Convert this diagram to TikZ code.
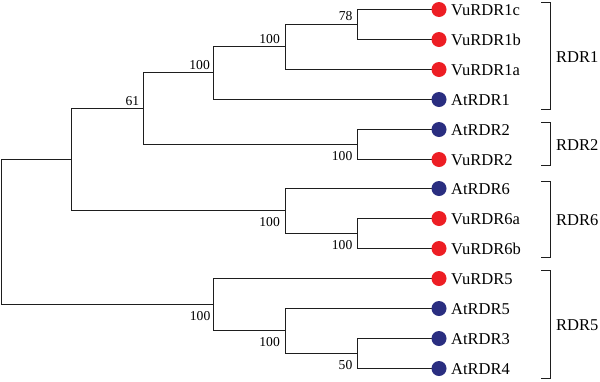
\documentclass[tikz,border=0pt]{standalone}
\usepackage{fontspec}
\setmainfont{Liberation Serif}
\definecolor{vured}{RGB}{237,30,36}
\definecolor{atblue}{RGB}{42,46,128}
\definecolor{branch}{RGB}{30,30,30}
\begin{document}
\begin{tikzpicture}[x=1pt,y=-1pt,
  br/.style={draw=branch,line width=1.2pt,line cap=rect},
  vudot/.style={circle,fill=vured,inner sep=0pt,minimum size=15pt},
  atdot/.style={circle,fill=atblue,inner sep=0pt,minimum size=15pt},
  leaflab/.style={anchor=base west,inner sep=0pt,font=\fontsize{16.5}{18}\selectfont},
  grplab/.style={anchor=base west,inner sep=0pt,font=\fontsize{16.5}{18}\selectfont},
  supup/.style={anchor=base east,inner sep=0pt,font=\fontsize{13.6}{15}\selectfont},
  supdn/.style={anchor=base east,inner sep=0pt,font=\fontsize{13.6}{15}\selectfont},
  brk/.style={draw=branch,line width=1.2pt,line cap=rect}]
\useasboundingbox (0,0) rectangle (600,381);
% internal nodes
\coordinate (n78) at (357.5,24.5);
\coordinate (n1abc) at (285.5,46.5);
\coordinate (nR1) at (213.5,72.5);
\coordinate (nR2) at (357.5,144.5);
\coordinate (n61) at (143.5,108.5);
\coordinate (nR6b) at (357.5,233.5);
\coordinate (nR6) at (285.5,210.5);
\coordinate (nUp) at (71.5,159.5);
\coordinate (n50) at (357.5,353.5);
\coordinate (nR5in) at (285.5,330.5);
\coordinate (nR5) at (213.5,304.5);
\coordinate (root) at (1.5,232);
% leaf end points
\coordinate (e0) at (431,9.5);
\coordinate (e1) at (431,39.5);
\coordinate (e2) at (431,69.5);
\coordinate (e3) at (431,99.5);
\coordinate (e4) at (431,129.5);
\coordinate (e5) at (431,159.5);
\coordinate (e6) at (431,188.5);
\coordinate (e7) at (431,218.5);
\coordinate (e8) at (431,248.5);
\coordinate (e9) at (431,278.5);
\coordinate (e10) at (431,308.5);
\coordinate (e11) at (431,338.5);
\coordinate (e12) at (431,368.5);
% branches
\draw[br] (n78) |- (e0); \draw[br] (n78) |- (e1);
\draw[br] (n1abc) |- (n78); \draw[br] (n1abc) |- (e2);
\draw[br] (nR1) |- (n1abc); \draw[br] (nR1) |- (e3);
\draw[br] (nR2) |- (e4); \draw[br] (nR2) |- (e5);
\draw[br] (n61) |- (nR1); \draw[br] (n61) |- (nR2);
\draw[br] (nR6b) |- (e7); \draw[br] (nR6b) |- (e8);
\draw[br] (nR6) |- (e6); \draw[br] (nR6) |- (nR6b);
\draw[br] (nUp) |- (n61); \draw[br] (nUp) |- (nR6);
\draw[br] (n50) |- (e11); \draw[br] (n50) |- (e12);
\draw[br] (nR5in) |- (e10); \draw[br] (nR5in) |- (n50);
\draw[br] (nR5) |- (e9); \draw[br] (nR5) |- (nR5in);
\draw[br] (root) |- (nUp); \draw[br] (root) |- (nR5);
% leaves (dots)
\node[vudot] (c0) at (439,9.5) {};
\node[vudot] (c1) at (439,39.5) {};
\node[vudot] (c2) at (439,69.5) {};
\node[atdot] (c3) at (439,99.5) {};
\node[atdot] (c4) at (439,129.5) {};
\node[vudot] (c5) at (439,159.5) {};
\node[atdot] (c6) at (439,188.5) {};
\node[vudot] (c7) at (439,218.5) {};
\node[vudot] (c8) at (439,248.5) {};
\node[vudot] (c9) at (439,278.5) {};
\node[atdot] (c10) at (439,308.5) {};
\node[atdot] (c11) at (439,338.5) {};
\node[atdot] (c12) at (439,368.5) {};
% leaf labels
\node[leaflab] (t0) at (451,15.5) {VuRDR1c};
\node[leaflab] (t1) at (451,45.5) {VuRDR1b};
\node[leaflab] (t2) at (451,75.5) {VuRDR1a};
\node[leaflab] (t3) at (451,105.5) {AtRDR1};
\node[leaflab] (t4) at (451,135.5) {AtRDR2};
\node[leaflab] (t5) at (451,165.5) {VuRDR2};
\node[leaflab] (t6) at (451,194.5) {AtRDR6};
\node[leaflab] (t7) at (451,224.5) {VuRDR6a};
\node[leaflab] (t8) at (451,254.5) {VuRDR6b};
\node[leaflab] (t9) at (451,284.5) {VuRDR5};
\node[leaflab] (t10) at (451,314.5) {AtRDR5};
\node[leaflab] (t11) at (451,344.5) {AtRDR3};
\node[leaflab] (t12) at (451,374.5) {AtRDR4};
% support values
\node[supup] (s78) at (352.7,20.8) {78};
\node[supup] (s1abc) at (280,43) {100};
\node[supup] (sR1) at (210,69) {100};
\node[supup] (s61) at (139.3,105) {61};
\node[supdn] (sR2) at (352.5,160.2) {100};
\node[supdn] (sR6) at (280,226.8) {100};
\node[supdn] (sR6b) at (352.5,249.3) {100};
\node[supdn] (sR5) at (210.5,320.6) {100};
\node[supdn] (sR5in) at (280,346.4) {100};
\node[supdn] (s50) at (352.5,369.3) {50};
% brackets
\draw[brk] (541.5,2.5) -| (550.5,109.5) -- (541.5,109.5);
\draw[brk] (541.5,122.5) -| (550.5,165.5) -- (541.5,165.5);
\draw[brk] (541.5,181.5) -| (550.5,257.5) -- (541.5,257.5);
\draw[brk] (541.5,270.5) -| (550.5,378.5) -- (541.5,378.5);
\node[grplab] (g1) at (556,62) {RDR1};
\node[grplab] (g2) at (556,150) {RDR2};
\node[grplab] (g6) at (556,225.7) {RDR6};
\node[grplab] (g5) at (556,330) {RDR5};
\end{tikzpicture}
\end{document}
